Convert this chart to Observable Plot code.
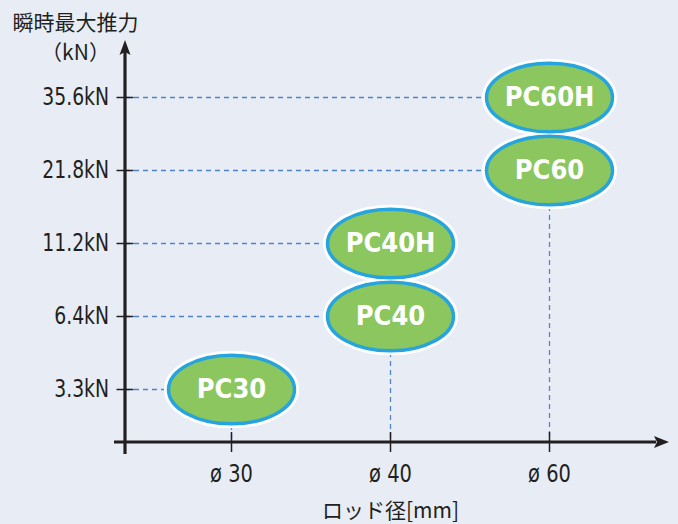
<!DOCTYPE html>
<html><head><meta charset="utf-8">
<script src="https://cdn.jsdelivr.net/npm/d3@7"></script>
<script src="https://cdn.jsdelivr.net/npm/@observablehq/plot@0.6"></script>
<style>html,body{margin:0;padding:0;background:#e8edf5;}</style>
</head><body><div id="chart"></div>
<script>
// ---- data ----
const rods = ["ø 30", "ø 40", "ø 60"];
const forceLabels = ["3.3kN", "6.4kN", "11.2kN", "21.8kN", "35.6kN"];
const models = ["PC30", "PC40", "PC40H", "PC60", "PC60H"];
const modelRod = ["ø 30", "ø 40", "ø 40", "ø 60", "ø 60"];
const modelForce = ["3.3kN", "6.4kN", "11.2kN", "21.8kN", "35.6kN"];
const yTitle = ["瞬時最大推力", "（kN）"];
const xTitle = "ロッド径[mm]";

const data = models.map((m, i) => ({model: m, rod: modelRod[i], force: modelForce[i]}));
const rank = (f) => forceLabels.indexOf(f);
const lowest = data.filter(d => !data.some(e => e.rod === d.rod && rank(e.force) < rank(d.force)));

// ---- style / layout ----
const W = 678, H = 524, mL = 125, mR = 10, mT = 40, mB = 82;
const ink = "#231f20";
const dash = {stroke: "#4f82cf", strokeWidth: 1.3, strokeDasharray: "5,4"};
const cjk = "'Noto Sans CJK JP', sans-serif";

const ellipse = {
  draw(ctx, size) {
    const rx = Math.sqrt(size / Math.PI), ry = rx * 0.545, k = 0.5522847498;
    ctx.moveTo(rx, 0);
    ctx.bezierCurveTo(rx, ry * k, rx * k, ry, 0, ry);
    ctx.bezierCurveTo(-rx * k, ry, -rx, ry * k, -rx, 0);
    ctx.bezierCurveTo(-rx, -ry * k, -rx * k, -ry, 0, -ry);
    ctx.bezierCurveTo(rx * k, -ry, rx, -ry * k, rx, 0);
    ctx.closePath();
  }
};

const plot = Plot.plot({
  width: W, height: H,
  marginLeft: mL, marginRight: mR, marginTop: mT, marginBottom: mB,
  style: {background: "#e8edf5", fontFamily: "'DejaVu Sans Condensed', sans-serif", fontSize: "24px", color: ink},
  x: {type: "point", domain: rods, range: [230, 549], padding: 0, label: null},
  y: {type: "point", domain: forceLabels, range: [389, 97], padding: 0, label: null},
  marks: [
    new Plot.RuleY(data, {y: "force", x2: "rod", ...dash}),
    new Plot.RuleX(lowest, {x: "rod", y1: "force", ...dash}),
    Plot.axisY({tickSize: 17, dx: 8.5, tickPadding: 8, strokeWidth: 1.5, fontSize: 24, label: null}),
    Plot.axisX({tickSize: 20, dy: -10, tickPadding: 12, strokeWidth: 1.5, fontSize: 24, label: null}),
    Plot.dot(data, {x: "rod", y: "force", symbol: ellipse, r: 63, fill: "#8bc75e", stroke: "white", strokeWidth: 9}),
    Plot.dot(data, {x: "rod", y: "force", symbol: ellipse, r: 63, fill: "#8bc75e", stroke: "#25a4de", strokeWidth: 3.5}),
    Plot.text(data, {x: "rod", y: "force", text: "model", fill: "white", fontWeight: "bold", fontSize: 27, ariaLabel: "model-label"}),
    Plot.text([yTitle[0]], {frameAnchor: "top-left", dx: -50, dy: -25, text: d => d, fontFamily: cjk, fontSize: 21, textAnchor: "middle", fill: ink}),
    Plot.text([yTitle[1]], {frameAnchor: "top-left", dx: -50, dy: 5, text: d => d, fontFamily: cjk, fontSize: 21, textAnchor: "middle", fill: ink}),
    Plot.text([xTitle], {frameAnchor: "bottom-left", dx: 265, dy: 75, text: d => d, fontFamily: cjk, fontSize: 21, textAnchor: "middle", fill: ink})
  ]
});

const svg = d3.select(plot);

// condense glyphs horizontally (reference uses a narrow DIN-like face)
function condense(sel, s) {
  sel.each(function () {
    const t = d3.select(this);
    const tr = t.attr("transform");
    if (tr) t.attr("transform", tr + ` scale(${s},1)`);
    else {
      const x = +t.attr("x") || 0, y = +t.attr("y") || 0;
      t.attr("x", null).attr("y", null).attr("transform", `translate(${x},${y}) scale(${s},1)`);
    }
  });
}
condense(svg.selectAll('g[aria-label="model-label"] text'), 0.78);
condense(svg.selectAll('g[aria-label="y-axis tick label"] text'), 0.87);
condense(svg.selectAll('g[aria-label="x-axis tick label"] text'), 0.9);

// axis lines with arrowheads
const g = svg.append("g");
const x0 = mL, y0 = H - mB;
g.append("line").attr("x1", x0 - 11).attr("x2", W - mR - 12).attr("y1", y0).attr("y2", y0)
  .attr("stroke", ink).attr("stroke-width", 3.2);
g.append("line").attr("x1", x0).attr("x2", x0).attr("y1", y0 + 12).attr("y2", mT + 12)
  .attr("stroke", ink).attr("stroke-width", 3.2);
const xt = W - mR + 1;
g.append("path").attr("fill", ink)
  .attr("d", `M${xt},${y0} L${xt - 15},${y0 - 6} L${xt - 12},${y0} L${xt - 15},${y0 + 6} Z`);
g.append("path").attr("fill", ink)
  .attr("d", `M${x0},${mT} L${x0 - 5.5},${mT + 15} L${x0},${mT + 12} L${x0 + 5.5},${mT + 15} Z`);

document.getElementById("chart").appendChild(plot);
</script>
</body></html>
